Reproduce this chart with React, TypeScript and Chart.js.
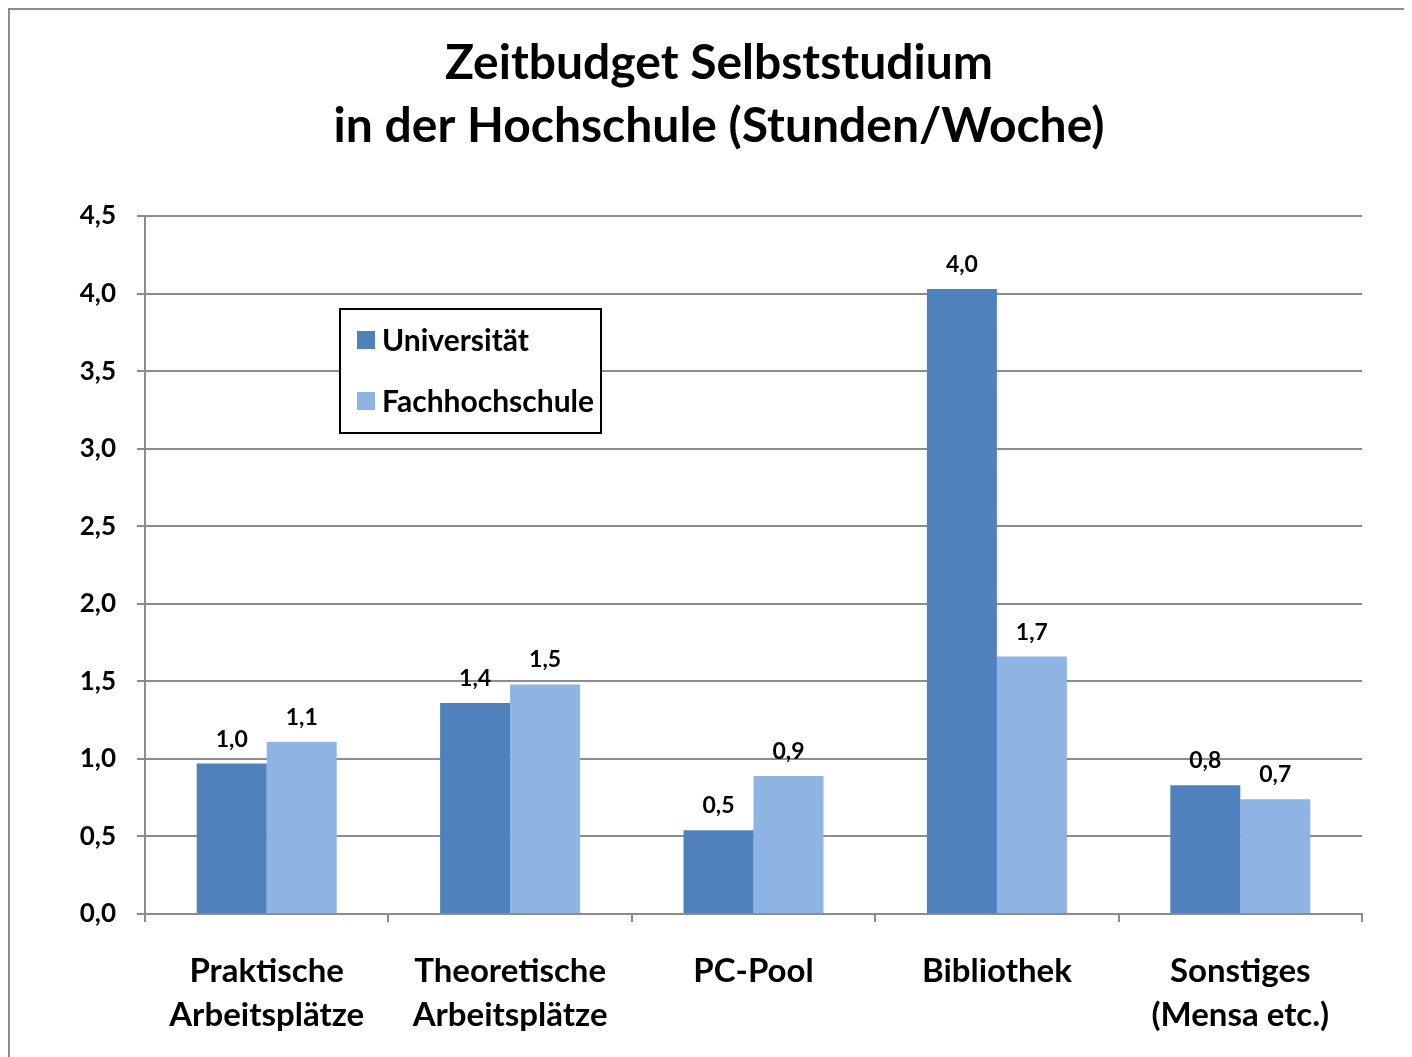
import React, { useEffect, useRef } from "react";
import { Chart, registerables } from "chart.js";

Chart.register(...registerables);

const TITLE_LINES = ["Zeitbudget Selbststudium", "in der Hochschule (Stunden/Woche)"];
const CATEGORIES = [
  ["Praktische", "Arbeitsplätze"],
  ["Theoretische", "Arbeitsplätze"],
  ["PC-Pool"],
  ["Bibliothek"],
  ["Sonstiges", "(Mensa etc.)"],
];
const SERIES_NAMES = ["Universität", "Fachhochschule"];
const UNI_VALUES = [0.97, 1.36, 0.54, 4.03, 0.83];
const FH_VALUES = [1.11, 1.48, 0.89, 1.66, 0.74];
const COLORS = ["#4F81BD", "#8EB4E3"];
const Y_MIN = 0;
const Y_MAX = 4.5;
const Y_STEP = 0.5;

const FONT = "Lato, 'Open Sans', sans-serif";
const GRID = "#8C8C8C";

const fmt = (v: number) => v.toFixed(1).replace(".", ",");

const overlayPlugin = {
  id: "overlay",
  afterDraw(chart: any) {
    const ctx = chart.ctx as CanvasRenderingContext2D;
    const area = chart.chartArea;
    ctx.save();
    // Title
    ctx.fillStyle = "#000";
    ctx.textAlign = "center";
    ctx.textBaseline = "alphabetic";
    ctx.font = `bold 48px ${FONT}`;
    TITLE_LINES.forEach((line, i) => {
      ctx.fillText(line, 711, 71 + i * 63);
    });

    // Data labels
    ctx.font = `bold 23px ${FONT}`;
    chart.data.datasets.forEach((ds: any, di: number) => {
      const meta = chart.getDatasetMeta(di);
      meta.data.forEach((bar: any, i: number) => {
        ctx.fillText(fmt(ds.data[i]), bar.x, bar.y - 17);
      });
    });

    // Legend box
    const lx = area.left + 195;
    const ly = area.top + 93;
    const lw = 261;
    const lh = 124;
    ctx.fillStyle = "#fff";
    ctx.fillRect(lx, ly, lw, lh);
    ctx.strokeStyle = "#000";
    ctx.lineWidth = 2;
    ctx.strokeRect(lx, ly, lw, lh);
    ctx.font = `bold 30px ${FONT}`;
    ctx.textAlign = "left";
    SERIES_NAMES.forEach((name, i) => {
      const rowBase = ly + 42 + i * 61;
      ctx.fillStyle = COLORS[i];
      ctx.fillRect(lx + 17, rowBase - 20, 18, 18);
      ctx.fillStyle = "#000";
      ctx.fillText(name, lx + 42, rowBase);
    });
    ctx.restore();
  },
};

export default function App() {
  const ref = useRef<HTMLCanvasElement | null>(null);
  useEffect(() => {
    if (!ref.current) return;
    const chart = new Chart(ref.current, {
      type: "bar",
      data: {
        labels: CATEGORIES,
        datasets: [
          {
            label: SERIES_NAMES[0],
            data: UNI_VALUES,
            backgroundColor: COLORS[0],
            categoryPercentage: 0.575,
            barPercentage: 1,
          },
          {
            label: SERIES_NAMES[1],
            data: FH_VALUES,
            backgroundColor: COLORS[1],
            categoryPercentage: 0.575,
            barPercentage: 1,
          },
        ],
      },
      options: {
        animation: false,
        responsive: false,
        maintainAspectRatio: false,
        layout: { padding: { top: 208, right: 50, left: 0, bottom: 0 } },
        plugins: {
          legend: { display: false },
          title: { display: false },
          tooltip: { enabled: false },
        },
        scales: {
          x: {
            grid: {
              display: true,
              drawOnChartArea: false,
              drawTicks: true,
              tickLength: 8,
              color: GRID,
              lineWidth: 2,
              offset: true,
            },
            border: { display: true, color: GRID, width: 2 },
            ticks: {
              color: "#000",
              font: { family: FONT, size: 33, weight: "bold", lineHeight: 1.333 },
              padding: 27,
              maxRotation: 0,
              autoSkip: false,
            },
            afterFit(scale: any) {
              scale.height = 143;
            },
          },
          y: {
            min: Y_MIN,
            max: Y_MAX,
            ticks: {
              stepSize: Y_STEP,
              color: "#000",
              font: { family: FONT, size: 26, weight: "bold" },
              padding: 21,
              callback: (v: any) => fmt(Number(v)),
            },
            grid: {
              color: GRID,
              lineWidth: 2,
              tickLength: 8,
              drawTicks: true,
            },
            border: { display: true, color: GRID, width: 2 },
            afterFit(scale: any) {
              scale.width = 137;
            },
          },
        },
      },
      plugins: [overlayPlugin],
    });
    return () => chart.destroy();
  }, []);

  return (
    <div style={{ position: "relative", width: 1404, height: 1049 }}>
      <style>{"html,body{overflow:hidden}"}</style>
      <div
        style={{
          position: "absolute",
          left: 0,
          top: 0,
          width: 1410,
          height: 1060,
          borderLeft: "2px solid #8C8C8C",
          borderTop: "2px solid #8C8C8C",
          boxSizing: "border-box",
        }}
      />
      <canvas
        ref={ref}
        width={1404}
        height={1049}
        style={{ position: "absolute", left: 0, top: 0, width: 1404, height: 1049 }}
      />
    </div>
  );
}
